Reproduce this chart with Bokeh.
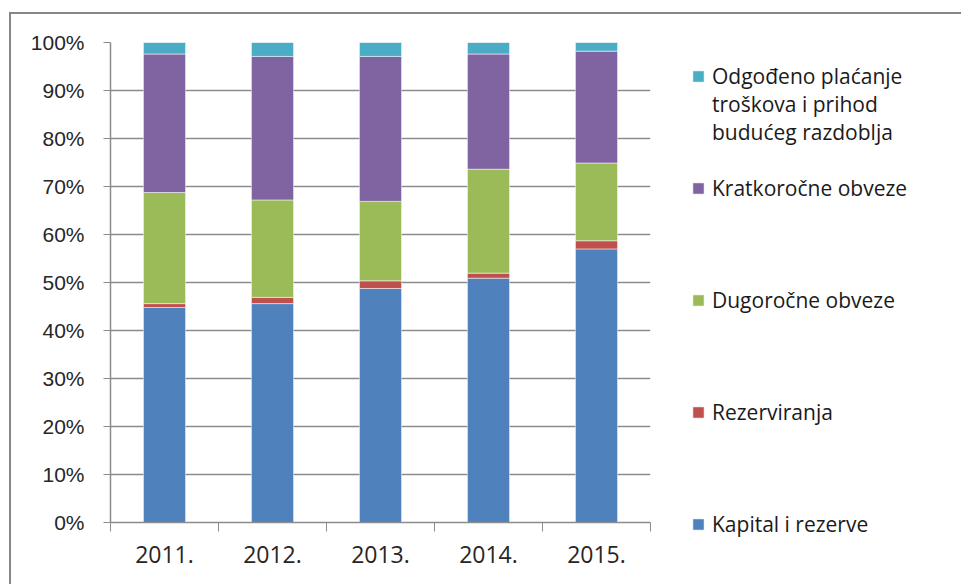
from bokeh.plotting import figure
from bokeh.models import (ColumnDataSource, FixedTicker, NumeralTickFormatter, Legend,
                          LegendItem, Range1d)
from bokeh.embed import file_html
from bokeh.resources import INLINE

years = ["2011.", "2012.", "2013.", "2014.", "2015."]
kapital = [0.448, 0.456, 0.4875, 0.509, 0.570]
rezerviranja = [0.008, 0.013, 0.016, 0.0105, 0.017]
dugorocne = [0.2315, 0.203, 0.1655, 0.2165, 0.162]
kratkorocne = [0.2885, 0.299, 0.302, 0.240, 0.233]
odgodeno = [0.024, 0.029, 0.029, 0.024, 0.018]

series_names = ["Kapital i rezerve", "Rezerviranja", "Dugoročne obveze",
                "Kratkoročne obveze", "Odgođeno plaćanje"]
odg_more_lines = ["troškova i prihod", "budućeg razdoblja"]
colors = ["#4F81BD", "#C0504D", "#9BBB59", "#8064A2", "#4BACC6"]
keys = ["kap", "rez", "dug", "kra", "odg"]

xpos = [i + 0.5 for i in range(len(years))]
source = ColumnDataSource(dict(x=xpos, kap=kapital, rez=rezerviranja, dug=dugorocne,
                               kra=kratkorocne, odg=odgodeno))

p = figure(frame_width=540, frame_height=480, output_backend="svg", toolbar_location=None,
           x_range=Range1d(0, len(years)), y_range=Range1d(0, 1),
           min_border_left=99, min_border_right=0, min_border_top=28,
           min_border_bottom=62, tools="",
           margin=(12, 0, 0, 9),
           styles={"border-left": "2px solid #878787",
                   "border-top": "2px solid #878787"})
p.outline_line_color = None
p.background_fill_color = "white"
p.border_fill_color = "white"

renderers = p.vbar_stack(keys, x="x", width=0.39, source=source, color=colors,
                         line_color="white", line_alpha=0.5, line_width=1)

p.xgrid.grid_line_color = None
p.ygrid.grid_line_color = "#8C8C8C"
p.ygrid.grid_line_width = 1.5
p.yaxis.ticker = FixedTicker(ticks=[i / 10 for i in range(11)])
p.yaxis.formatter = NumeralTickFormatter(format="0%")
p.yaxis.axis_line_color = "#8C8C8C"
p.yaxis.axis_line_width = 1.5
p.yaxis.major_tick_line_color = "#8C8C8C"
p.yaxis.major_tick_out = 7
p.yaxis.major_tick_in = 0
p.yaxis.minor_tick_line_color = None
p.yaxis.major_label_text_font = "Liberation Sans"
p.yaxis.major_label_text_font_size = "21px"
p.yaxis.major_label_text_color = "#262626"
p.yaxis.major_label_standoff = 19

p.xaxis.ticker = FixedTicker(ticks=xpos, minor_ticks=list(range(len(years) + 1)))
p.xaxis.major_label_overrides = {x: y for x, y in zip(xpos, years)}
p.xaxis.axis_line_color = "#8C8C8C"
p.xaxis.axis_line_width = 1.5
p.xaxis.major_tick_line_color = None
p.xaxis.minor_tick_line_color = "#8C8C8C"
p.xaxis.minor_tick_out = 9
p.xaxis.minor_tick_in = 0
p.xaxis.major_label_text_font = "Open Sans"
p.xaxis.major_label_text_font_size = "23px"
p.xaxis.major_label_text_color = "#262626"
p.xaxis.major_label_standoff = 14

# Legend: rows on a fixed pitch; continuation lines and gaps use an invisible swatch
blank = p.vbar(x=[], top=[], width=0.39, fill_alpha=0, line_alpha=0)
by_key = dict(zip(keys, zip(series_names, renderers)))
items = [LegendItem(label=by_key["odg"][0], renderers=[by_key["odg"][1]])]
for line in odg_more_lines:
    items.append(LegendItem(label=line, renderers=[blank]))
items.append(LegendItem(label=" ", renderers=[blank]))
for key in ["kra", "dug", "rez", "kap"]:
    items.append(LegendItem(label=by_key[key][0], renderers=[by_key[key][1]]))
    if key != "kap":
        for _ in range(3):
            items.append(LegendItem(label=" ", renderers=[blank]))

leg = Legend(items=items, location=(41, -16), ncols=1,
             glyph_width=14, glyph_height=14, label_height=28, spacing=0,
             padding=0, margin=0, label_standoff=7, border_line_color=None,
             background_fill_alpha=0, label_text_font="Open Sans",
             label_text_font_size="21px", label_text_color="#1a1a1a")
p.add_layout(leg, "right")

open("out.html", "w").write(file_html(p, INLINE))
